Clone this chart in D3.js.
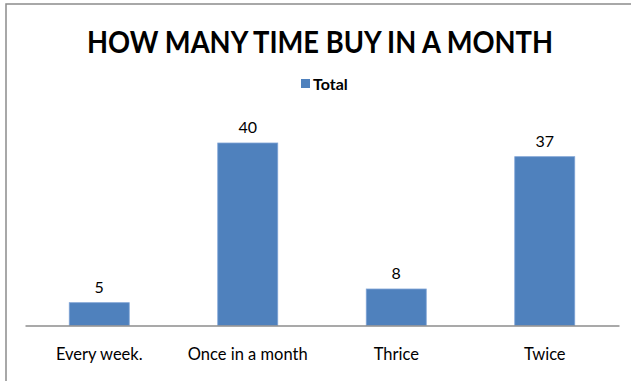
<!DOCTYPE html>
<html>
<head>
<meta charset="utf-8">
<script src="https://cdn.jsdelivr.net/npm/d3@7"></script>
<style>
  html, body { margin: 0; padding: 0; background: #fff; }
  svg { display: block; }
  text { font-family: Lato, "Open Sans", sans-serif; fill: #000; }
</style>
</head>
<body>
<svg id="chart" width="631" height="381"></svg>
<script>
const categories = ["Every week.", "Once in a month", "Thrice", "Twice"];
const totals = [5, 40, 8, 37];
const seriesName = "Total";
const chartTitle = "HOW MANY TIME BUY IN A MONTH";

const svg = d3.select("#chart");
const W = 631, H = 381;
const baseY = 325.5;

// chart frame
svg.append("rect")
  .attr("x", 6).attr("y", 4)
  .attr("width", W + 10).attr("height", H + 10)
  .attr("fill", "none").attr("stroke", "#8c8c8c").attr("stroke-width", 1.5);

const x = d3.scaleBand()
  .domain(categories)
  .range([25, 619])
  .paddingInner(0.596)
  .paddingOuter(0.298);

const y = d3.scaleLinear()
  .domain([0, 40])
  .range([baseY, 143]);

// bars
svg.append("g").selectAll("rect")
  .data(categories)
  .join("rect")
  .attr("x", d => x(d))
  .attr("y", (d, i) => y(totals[i]))
  .attr("width", x.bandwidth())
  .attr("height", (d, i) => baseY - y(totals[i]))
  .attr("fill", "#4f81bd")
  .attr("stroke", "#7fa4d6")
  .attr("stroke-width", 0.8);

// category axis
const axis = svg.append("g")
  .attr("transform", `translate(0,${baseY})`)
  .call(d3.axisBottom(x).tickSize(0).tickPadding(23));
axis.select(".domain").attr("stroke", "#8c8c8c").attr("stroke-width", 1.5);
axis.selectAll("text")
  .style("font-family", "Lato, 'Open Sans', sans-serif")
  .style("font-size", "16.5px")
  .attr("fill", "#000");

// value labels
svg.append("g").selectAll("text")
  .data(categories)
  .join("text")
  .attr("x", d => x(d) + x.bandwidth() / 2)
  .attr("y", (d, i) => y(totals[i]) - 10)
  .attr("text-anchor", "middle")
  .style("font-size", "16px")
  .text((d, i) => totals[i]);

// title
svg.append("text")
  .attr("x", 320).attr("y", 53)
  .attr("text-anchor", "middle")
  .attr("textLength", 466)
  .attr("lengthAdjust", "spacingAndGlyphs")
  .style("font-size", "31px")
  .style("font-weight", "bold")
  .text(chartTitle);

// legend
svg.append("rect")
  .attr("x", 301).attr("y", 79)
  .attr("width", 9).attr("height", 9)
  .attr("fill", "#4f81bd");
svg.append("text")
  .attr("x", 313).attr("y", 90)
  .style("font-size", "16px")
  .style("font-weight", "bold")
  .text(seriesName);
</script>
</body>
</html>
